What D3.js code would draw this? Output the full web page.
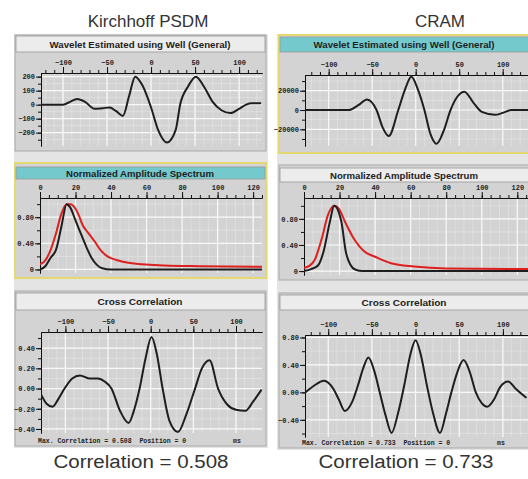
<!DOCTYPE html>
<html>
<head>
<meta charset="utf-8">
<script src="https://cdn.jsdelivr.net/npm/d3@7"></script>
<style>
body{margin:0;background:#fff;}
svg{display:block;}
</style>
</head>
<body>
<div id="container"></div>
<script>
// Wavelets (time in ms, amplitude)
var waveTimeK = [-125,-100,-92,-84,-75,-64,-55,-47,-40,-32,-25,-18,-10,0,8,18,28,33,42,51,60,70,80,90,100,108,114,125];
var waveAmpK  = [0,0,20,40,20,-30,-25,-20,-45,-80,60,200,140,-20,-180,-270,-180,0,130,200,130,20,-40,-60,-30,0,10,10];
var waveTimeC = [-127,-100,-77,-66,-56,-45,-38,-31,-20,-12,-5,3,10,17,24,32,40,48,56,66,76,91,100,110,131];
var waveAmpC  = [0,0,0,5000,11000,0,-18000,-27000,0,22000,34500,20000,0,-25000,-35000,-22000,0,14000,19000,8000,-2000,-5000,-3000,0,0];

// Normalized amplitude spectra (frequency in Hz)
var specFreqK      = [0,3,6,9,12,15,17,20,23,26,29,32,35,40,60,125];
var specSeismicK   = [0,0.05,0.18,0.3,0.65,1.0,0.95,0.75,0.55,0.35,0.18,0.07,0.02,0,0,0];
var specFreqKw     = [0,3,6,9,12,15,17,20,22,24,26,28,31,34,38,43,52,70,90,125];
var specWellK      = [0.08,0.14,0.3,0.55,0.85,1.0,1.0,0.93,0.82,0.68,0.6,0.53,0.42,0.3,0.2,0.145,0.095,0.06,0.05,0.04];
var specFreqC      = [0,4,8,11,14.5,17,21,23.5,26,29,33,60,127];
var specSeismicC   = [0,0.03,0.09,0.3,0.75,1.0,0.76,0.3,0.1,0.02,0,0,0];
var specFreqCw     = [0,3,6,10,13.5,17,19.5,23,28,34,40,49,62,80,127];
var specWellC      = [0.05,0.08,0.17,0.5,0.86,1.0,0.96,0.76,0.5,0.3,0.22,0.12,0.07,0.04,0.03];

// Cross correlations (lag in ms)
var ccLagK = [-129,-122,-115,-108,-101,-92,-83,-72,-62,-54,-46,-36,-26,-19,-13,-6,1,7,14,22,32,42,52,60,69,79,90,100,111,120,130];
var ccValK = [-0.05,-0.15,-0.18,-0.1,0,0.1,0.13,0.1,0.1,0.07,0,-0.22,-0.34,-0.2,0,0.3,0.51,0.35,0,-0.32,-0.43,-0.25,0,0.2,0.28,0,-0.16,-0.21,-0.22,-0.13,-0.01];
var ccLagC = [-127,-116,-105,-94,-88,-81,-73,-66,-60,-54,-47,-41,-34,-27.5,-20,-13,-6,0,6,13,20,28,35,41,48,55,62,69,76,82,90,97,106,115,127];
var ccValC = [-0.01,0.1,0.17,0.05,-0.1,-0.27,-0.15,0.1,0.35,0.51,0.3,0,-0.35,-0.59,-0.3,0.1,0.55,0.76,0.55,0.1,-0.3,-0.59,-0.3,0,0.3,0.47,0.3,0,-0.16,-0.21,-0.1,0.08,0.16,0.05,-0.08];

// tick labels
var lagMajor = [-100,-50,0,50,100];
var lagMinor = d3.range(-120,121,10);
var freqMajor = [0,20,40,60,80,100,120];
var freqMinor = d3.range(0,126,5);
var waveYMajorK = [-200,-100,0,100,200];
var waveYMinorK = d3.range(-250,226,50);
var waveYMajorC = [-20000,0,20000];
var waveYMinorC = d3.range(-30000,30001,10000);
var specYMajor = [0,0.4,0.8];
var specYMinor = [0,0.2,0.4,0.6,0.8,1.0];
var ccYMajorK = [-0.4,-0.2,0,0.2,0.4];
var ccYMinorK = d3.range(-0.4,0.55,0.1);
var ccYMajorC = [-0.4,0,0.4,0.8];
var ccYMinorC = d3.range(-0.6,0.85,0.2);

var colTitles = ["Kirchhoff PSDM","CRAM"];
var colFooters = ["Correlation = 0.508","Correlation = 0.733"];
var maxCorr = ["0.508","0.733"];

var fmt2 = function(d){ return d === 0 ? "0" : d3.format(".2f")(d); };
var fmtCC = d3.format(".2f");
var fmtInt = d3.format("d");

var panels = [
	{box:[15,35,251,116], bar:[16,36,249,16], teal:false, sel:false, title:"Wavelet Estimated using Well (General)", tw:181,
	 plot:[41,262,73,146], xDom:[-125,126], yDom:[-295,226], xMajor:lagMajor, xMinor:lagMinor, yMajor:waveYMajorK, yMinor:waveYMinorK, yFmt:fmtInt,
	 series:[{t:waveTimeK, v:waveAmpK, c:"#1e1e1e"}]},
	{box:[279,35,252,118], bar:[280,37,250,15], teal:true, sel:true, title:"Wavelet Estimated using Well (General)", tw:181,
	 plot:[305,531,75,146], xDom:[-127.2,132.5], yDom:[-37300,36300], xMajor:lagMajor, xMinor:lagMinor, yMajor:waveYMajorC, yMinor:waveYMinorC, yFmt:fmtInt,
	 series:[{t:waveTimeC, v:waveAmpC, c:"#1e1e1e"}]},
	{box:[15,163,251,115], bar:[16,167,249,12], teal:true, sel:true, title:"Normalized Amplitude Spectrum", tw:148,
	 plot:[40,262,198,273], xDom:[0,125], yDom:[-0.054,1.094], xMajor:freqMajor, xMinor:freqMinor, yMajor:specYMajor, yMinor:specYMinor, yFmt:fmt2,
	 series:[{t:specFreqKw, v:specWellK, c:"#dd1f1f"},{t:specFreqK, v:specSeismicK, c:"#1e1e1e"}]},
	{box:[279,165,252,115], bar:[280,168,250,14], teal:false, sel:false, title:"Normalized Amplitude Spectrum", tw:148,
	 plot:[304,531,198,275], xDom:[0,127.7], yDom:[-0.06,1.12], xMajor:freqMajor, xMinor:freqMinor, yMajor:specYMajor, yMinor:specYMinor, yFmt:fmt2,
	 series:[{t:specFreqCw, v:specWellC, c:"#dd1f1f"},{t:specFreqC, v:specSeismicC, c:"#1e1e1e"}]},
	{box:[15,291,251,155], bar:[16,293,249,17], teal:false, sel:false, title:"Cross Correlation", tw:85,
	 plot:[41,262,332,433], xDom:[-128.6,130.5], yDom:[-0.44,0.56], xMajor:lagMajor, xMinor:lagMinor, yMajor:ccYMajorK, yMinor:ccYMinorK, yFmt:fmtCC,
	 series:[{t:ccLagK, v:ccValK, c:"#1e1e1e"}], footer:0},
	{box:[279,293,252,155], bar:[280,295,250,15], teal:false, sel:false, title:"Cross Correlation", tw:85,
	 plot:[305,531,335,437], xDom:[-126.6,132.2], yDom:[-0.65,0.836], xMajor:lagMajor, xMinor:lagMinor, yMajor:ccYMajorC, yMinor:ccYMinorC, yFmt:fmtCC,
	 series:[{t:ccLagC, v:ccValC, c:"#1e1e1e"}], footer:1}
];

var svg = d3.select('#container')
	.append("svg")
	.attr("width", 528)
	.attr("height", 479);

// column backgrounds
svg.append("rect").attr("x",14).attr("y",34).attr("width",254).attr("height",414).attr("fill","#e4e4e4");
svg.append("rect").attr("x",277).attr("y",34).attr("width",255).attr("height",416).attr("fill","#e4e4e4");

function styleAxis(sel){
	sel.select(".domain").attr("stroke","#111").attr("stroke-width",1);
	sel.selectAll(".tick line").attr("stroke","#111");
	sel.selectAll("text")
		.attr("fill","#222")
		.attr("font-family","Liberation Mono, monospace")
		.attr("font-weight","bold")
		.attr("font-size","7px");
}

function drawPanel(p, i){
	var g = svg.append("g");
	var x = d3.scaleLinear().domain(p.xDom).range([p.plot[0], p.plot[1]]);
	var y = d3.scaleLinear().domain(p.yDom).range([p.plot[3], p.plot[2]]);

	g.append("rect")
		.attr("x",p.box[0]).attr("y",p.box[1]).attr("width",p.box[2]).attr("height",p.box[3])
		.attr("fill","#d3d3d3")
		.attr("stroke", p.sel ? "#e3d970" : "#a9a9a9")
		.attr("stroke-width", p.sel ? 2 : 1);

	// title bar
	g.append("rect")
		.attr("x",p.bar[0]).attr("y",p.bar[1]).attr("width",p.bar[2]).attr("height",p.bar[3])
		.attr("fill", p.teal ? "#74c9cd" : "#ececec")
		.attr("stroke","#9a9a9a").attr("stroke-width",0.8);
	g.append("text")
		.attr("x", p.box[0] + 125).attr("y", p.bar[1] + p.bar[3]/2 + 3.5)
		.attr("text-anchor","middle")
		.attr("font-family","Liberation Sans, Arial, sans-serif")
		.attr("font-weight","bold")
		.attr("font-size","9.5px")
		.attr("fill","#222")
		.attr("textLength", p.tw).attr("lengthAdjust","spacingAndGlyphs")
		.text(p.title);

	var clipId = "clip" + i;
	svg.append("clipPath").attr("id",clipId)
		.append("rect").attr("x",p.plot[0]).attr("y",p.plot[2]).attr("width",p.plot[1]-p.plot[0]).attr("height",p.plot[3]-p.plot[2]);

	// grid
	var grid = g.append("g").attr("clip-path","url(#"+clipId+")");
	grid.selectAll(".vmin").data(p.xMinor).enter().append("line")
		.attr("x1",function(d){return x(d);}).attr("x2",function(d){return x(d);})
		.attr("y1",p.plot[2]).attr("y2",p.plot[3])
		.attr("stroke","#e6e6e6").attr("stroke-width",0.6);
	grid.selectAll(".hmin").data(p.yMinor).enter().append("line")
		.attr("y1",function(d){return y(d);}).attr("y2",function(d){return y(d);})
		.attr("x1",p.plot[0]).attr("x2",p.plot[1])
		.attr("stroke","#e6e6e6").attr("stroke-width",0.6);
	grid.selectAll(".vmaj").data(p.xMajor).enter().append("line")
		.attr("x1",function(d){return x(d);}).attr("x2",function(d){return x(d);})
		.attr("y1",p.plot[2]).attr("y2",p.plot[3])
		.attr("stroke","#f8f8f8").attr("stroke-width",1.2);
	grid.selectAll(".hmaj").data(p.yMajor).enter().append("line")
		.attr("y1",function(d){return y(d);}).attr("y2",function(d){return y(d);})
		.attr("x1",p.plot[0]).attr("x2",p.plot[1])
		.attr("stroke","#f8f8f8").attr("stroke-width",1.2);

	// axes
	var xa1 = g.append("g").attr("transform","translate(0,"+p.plot[2]+")")
		.call(d3.axisTop(x).tickValues(p.xMinor).tickSize(3).tickSizeOuter(0).tickFormat(""));
	styleAxis(xa1);
	var xa2 = g.append("g").attr("transform","translate(0,"+p.plot[2]+")")
		.call(d3.axisTop(x).tickValues(p.xMajor).tickSize(6).tickSizeOuter(0).tickPadding(2).tickFormat(fmtInt));
	styleAxis(xa2);
	var ya1 = g.append("g").attr("transform","translate("+p.plot[0]+",0)")
		.call(d3.axisLeft(y).tickValues(p.yMinor).tickSize(3).tickSizeOuter(0).tickFormat(""));
	styleAxis(ya1);
	var ya2 = g.append("g").attr("transform","translate("+p.plot[0]+",0)")
		.call(d3.axisLeft(y).tickValues(p.yMajor).tickSize(5).tickSizeOuter(0).tickPadding(1).tickFormat(p.yFmt));
	styleAxis(ya2);

	// curves
	var line = d3.line()
		.x(function(d){ return x(d[0]); })
		.y(function(d){ return y(d[1]); })
		.curve(d3.curveMonotoneX);
	var lines = g.append("g").attr("clip-path","url(#"+clipId+")");
	p.series.forEach(function(s){
		lines.append("path")
			.datum(d3.zip(s.t, s.v))
			.attr("d", line)
			.attr("fill","none")
			.attr("stroke", s.c)
			.attr("stroke-width", 2)
			.attr("stroke-linejoin","round");
	});

	if (p.footer !== undefined){
		g.append("text")
			.attr("x", p.box[0] + 23).attr("y", p.box[1] + p.box[3] - 3)
			.attr("font-family","Liberation Mono, monospace")
			.attr("font-weight","bold")
			.attr("font-size","6.5px")
			.attr("fill","#222")
			.attr("xml:space","preserve")
			.text("Max. Correlation = " + maxCorr[p.footer] + "  Position = 0");
		g.append("text")
			.attr("x", p.box[0] + 218).attr("y", p.box[1] + p.box[3] - 3)
			.attr("font-family","Liberation Mono, monospace")
			.attr("font-weight","bold")
			.attr("font-size","6.5px")
			.attr("fill","#222")
			.text("ms");
	}
}

panels.forEach(drawPanel);

// column titles and captions
svg.selectAll(".coltitle").data(colTitles).enter().append("text")
	.attr("x", function(d,i){ return i === 0 ? 148 : 440; })
	.attr("y", 27)
	.attr("text-anchor","middle")
	.attr("font-family","Liberation Sans, Arial, sans-serif")
	.attr("font-size","17px")
	.attr("fill","#333")
	.text(function(d){ return d; });

svg.selectAll(".caption").data(colFooters).enter().append("text")
	.attr("x", function(d,i){ return i === 0 ? 141 : 406; })
	.attr("y", 468)
	.attr("text-anchor","middle")
	.attr("font-family","Liberation Sans, Arial, sans-serif")
	.attr("font-size","18px")
	.attr("fill","#333")
	.attr("textLength", 175).attr("lengthAdjust","spacingAndGlyphs")
	.text(function(d){ return d; });
</script>
</body>
</html>
